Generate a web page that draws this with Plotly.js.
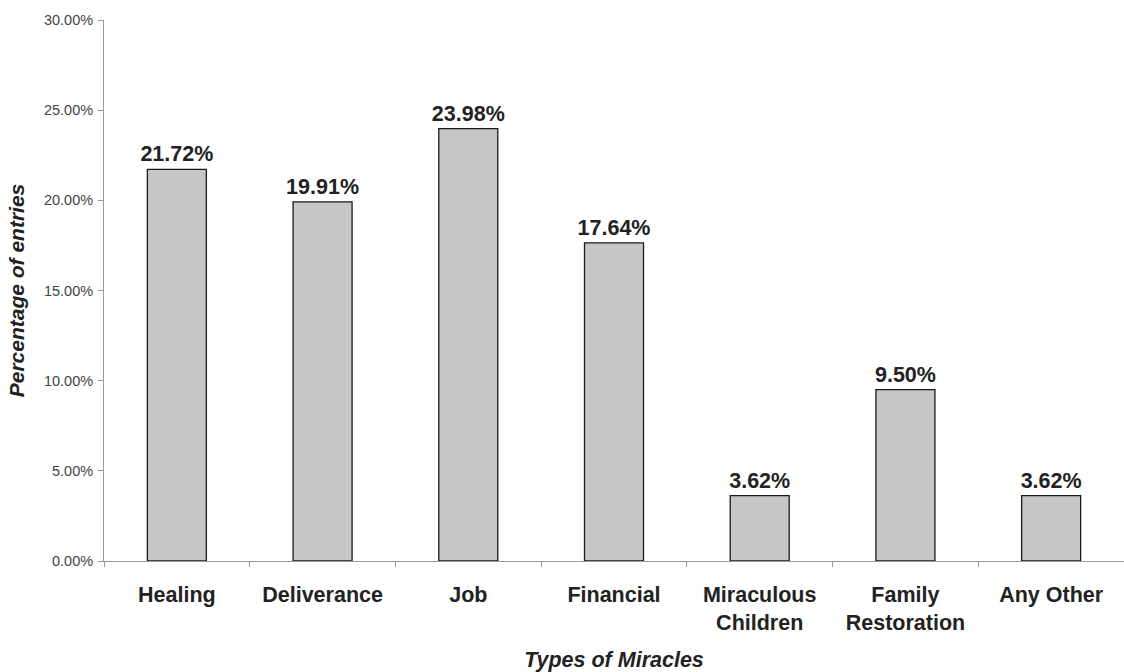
<!DOCTYPE html>
<html>
<head>
<meta charset="utf-8">
<script src="https://cdn.plot.ly/plotly-3.0.1.min.js"></script>
<style>html,body{margin:0;padding:0;background:#fff;}#chart{width:1124px;height:672px;}</style>
</head>
<body>
<div id="chart"></div>
<script>
const categories = ["Healing", "Deliverance", "Job", "Financial", "Miraculous<br>Children", "Family<br>Restoration", "Any Other"];
const percentages = [21.72, 19.91, 23.98, 17.64, 3.62, 9.50, 3.62];
const yTickValues = [0, 5, 10, 15, 20, 25, 30];

const trace = {
  type: "bar",
  x: categories,
  y: percentages,
  text: percentages.map(v => v.toFixed(2) + "%"),
  textposition: "outside",
  constraintext: "none",
  cliponaxis: false,
  textfont: {family: "Liberation Sans, Arial, sans-serif", size: 21.5, color: "#222", weight: "bold"},
  marker: {color: "#c6c6c6", line: {color: "#1a1a1a", width: 1.3}},
  hoverinfo: "none"
};

const layout = {
  width: 1124,
  height: 672,
  margin: {l: 104, r: 0, t: 20, b: 111},
  paper_bgcolor: "#fff",
  plot_bgcolor: "#fff",
  showlegend: false,
  bargap: 0.595,
  font: {family: "Liberation Sans, Arial, sans-serif", color: "#333"},
  xaxis: {
    type: "category",
    showline: true,
    linecolor: "#9a9a9a",
    linewidth: 1,
    ticks: "outside",
    tickson: "boundaries",
    ticklen: 5,
    tickcolor: "#9a9a9a",
    ticklabelstandoff: 14,
    showgrid: false,
    tickfont: {size: 21.5, color: "#222", weight: "bold"},
    title: {text: "Types of Miracles", font: {size: 21.5, color: "#222", weight: "bold", style: "italic"}, standoff: 20}
  },
  yaxis: {
    range: [0, 30],
    tickvals: yTickValues,
    ticktext: yTickValues.map(v => v.toFixed(2) + "%"),
    showline: true,
    linecolor: "#9a9a9a",
    linewidth: 1,
    ticks: "outside",
    ticklen: 5,
    tickcolor: "#9a9a9a",
    ticklabelstandoff: 2,
    showgrid: false,
    zeroline: false,
    tickfont: {size: 14.5, color: "#444"},
    title: {text: "Percentage of entries", font: {size: 21, color: "#222", weight: "bold", style: "italic"}, standoff: 13}
  }
};

Plotly.newPlot("chart", [trace], layout, {displayModeBar: false, staticPlot: true});
</script>
</body>
</html>
